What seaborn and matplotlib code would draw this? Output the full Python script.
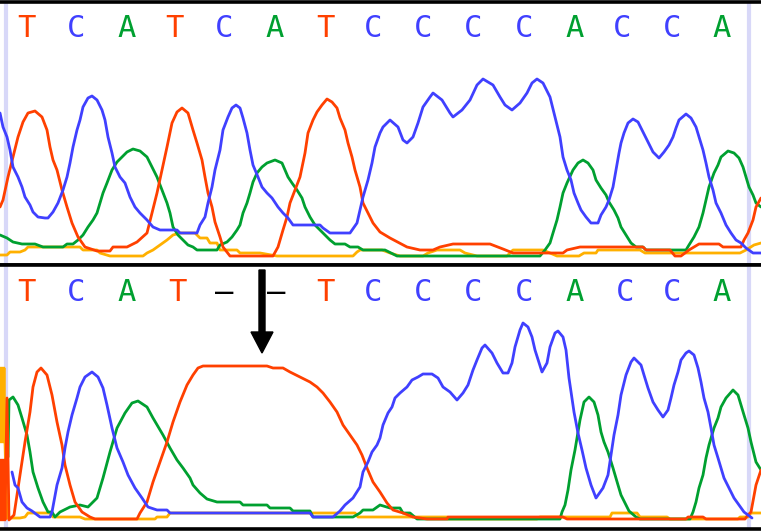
import matplotlib
matplotlib.use("Agg")
import matplotlib.pyplot as plt
from matplotlib.patches import FancyArrow
import seaborn as sns
import pandas as pd

# ---------------- data ----------------
# base calls
top_calls = ["T", "C", "A", "T", "C", "A", "T", "C", "C", "C", "C", "A", "C", "C", "A"]
top_call_pos = [26, 76, 127, 174, 224, 275, 325, 373, 423, 473, 524, 575, 622, 672, 722]
bot_calls = ["T", "C", "A", "T", "–", "–", "T", "C", "C", "C", "C", "A", "C", "C", "A"]
bot_call_pos = [26, 76, 127, 177, 224, 276, 325, 373, 423, 473, 524, 575, 625, 672, 722]
deletion_scan = 262

# ---- top trace (reference) ----
top_T_scan = [0, 3, 8, 13, 18, 23, 28, 35, 42, 47, 50, 53, 57, 62, 67, 72, 78, 85, 97, 110, 113, 127, 137, 147, 152, 157, 162, 167, 172, 177, 182, 188, 193, 197, 202, 205, 208, 212, 215, 220, 223, 230, 273, 278, 283, 287, 290, 295, 300, 305, 308, 313, 317, 322, 327, 332, 337, 340, 345, 348, 352, 355, 360, 363, 368, 373, 380, 390, 407, 420, 433, 440, 453, 490, 503, 513, 563, 567, 580, 643, 646, 670, 675, 681, 689, 699, 719, 723, 741, 744, 748, 753, 756, 761]
top_T_sig = [58, 65, 88, 108, 128, 143, 152, 154, 148, 135, 118, 105, 95, 75, 58, 42, 28, 18, 14, 14, 18, 18, 23, 32, 52, 72, 95, 118, 142, 153, 157, 152, 135, 122, 105, 88, 72, 58, 43, 28, 18, 9, 9, 18, 35, 48, 62, 75, 88, 112, 132, 145, 153, 160, 166, 163, 157, 147, 135, 122, 108, 95, 78, 62, 52, 42, 33, 27, 18, 15, 15, 18, 21, 21, 16, 12, 12, 15, 18, 18, 15, 15, 9, 9, 15, 21, 21, 18, 18, 25, 32, 45, 58, 67]

top_C_scan = [0, 3, 7, 10, 13, 18, 22, 25, 30, 33, 38, 45, 48, 53, 58, 63, 67, 70, 73, 77, 80, 83, 88, 92, 97, 102, 105, 108, 112, 115, 120, 125, 130, 135, 140, 147, 153, 160, 177, 180, 197, 200, 205, 208, 212, 215, 220, 223, 228, 232, 236, 240, 243, 247, 250, 253, 258, 262, 267, 272, 278, 283, 288, 293, 320, 323, 330, 350, 357, 360, 363, 368, 372, 375, 380, 383, 390, 398, 403, 407, 413, 418, 423, 430, 433, 442, 450, 453, 462, 470, 477, 483, 493, 500, 505, 512, 520, 527, 532, 537, 543, 550, 555, 560, 563, 567, 571, 574, 578, 581, 586, 591, 598, 601, 606, 609, 613, 616, 619, 621, 624, 628, 633, 638, 643, 648, 653, 659, 664, 669, 673, 676, 679, 686, 691, 696, 699, 703, 706, 709, 713, 716, 721, 726, 731, 736, 741, 746, 753, 761]
top_C_sig = [152, 138, 128, 115, 98, 88, 78, 68, 60, 53, 48, 47, 47, 53, 62, 75, 88, 102, 118, 135, 145, 158, 167, 169, 165, 155, 145, 128, 112, 98, 88, 82, 68, 58, 52, 45, 38, 35, 35, 32, 32, 40, 48, 62, 78, 95, 115, 135, 148, 157, 160, 157, 147, 132, 115, 100, 88, 78, 72, 67, 58, 52, 47, 40, 40, 37, 32, 32, 42, 55, 68, 85, 102, 118, 132, 138, 145, 138, 125, 122, 128, 142, 158, 168, 172, 165, 152, 148, 155, 165, 180, 186, 180, 168, 160, 155, 162, 172, 182, 186, 182, 168, 148, 128, 108, 95, 85, 72, 62, 55, 48, 42, 42, 50, 58, 65, 78, 95, 112, 122, 132, 142, 146, 143, 133, 123, 113, 107, 113, 120, 128, 137, 145, 151, 147, 138, 128, 115, 102, 88, 75, 62, 52, 40, 32, 25, 22, 17, 12, 12]

top_A_scan = [0, 7, 13, 22, 35, 43, 63, 67, 73, 78, 83, 88, 93, 97, 100, 103, 107, 112, 117, 122, 127, 133, 140, 147, 152, 157, 162, 167, 170, 173, 178, 183, 188, 193, 197, 217, 220, 227, 232, 237, 240, 243, 247, 250, 253, 257, 262, 267, 275, 282, 285, 288, 292, 297, 302, 305, 310, 315, 320, 325, 330, 335, 345, 350, 358, 363, 385, 397, 540, 545, 550, 553, 557, 560, 563, 567, 573, 578, 583, 588, 593, 596, 601, 606, 609, 614, 618, 621, 626, 631, 636, 643, 646, 686, 689, 694, 699, 703, 706, 709, 714, 718, 721, 728, 734, 739, 743, 746, 749, 753, 756, 761]
top_A_sig = [30, 27, 23, 21, 21, 18, 18, 21, 21, 25, 30, 38, 45, 52, 62, 72, 82, 95, 103, 108, 113, 116, 114, 108, 98, 88, 75, 62, 52, 38, 30, 25, 20, 18, 15, 15, 20, 23, 28, 35, 40, 52, 62, 72, 83, 92, 98, 102, 105, 102, 95, 88, 82, 75, 67, 58, 48, 40, 35, 30, 25, 21, 21, 18, 18, 15, 15, 9, 9, 15, 22, 32, 45, 58, 72, 82, 95, 102, 105, 102, 95, 85, 77, 70, 63, 55, 47, 38, 30, 22, 18, 18, 15, 15, 20, 28, 38, 52, 65, 78, 92, 100, 108, 114, 112, 107, 98, 88, 78, 70, 62, 58]

top_G_scan = [0, 7, 10, 20, 25, 28, 80, 83, 97, 100, 110, 143, 147, 153, 160, 167, 173, 180, 195, 200, 207, 210, 217, 220, 237, 240, 260, 277, 353, 357, 360, 382, 390, 400, 423, 428, 437, 460, 465, 477, 507, 513, 543, 550, 557, 579, 584, 596, 598, 640, 645, 740, 746, 754, 761]
top_G_sig = [10, 10, 13, 13, 15, 18, 18, 15, 15, 12, 9, 9, 12, 15, 20, 25, 30, 32, 32, 27, 27, 22, 22, 15, 15, 12, 12, 9, 9, 13, 15, 15, 12, 9, 9, 12, 15, 15, 12, 9, 9, 15, 15, 12, 9, 9, 12, 12, 15, 15, 12, 12, 15, 20, 22]

# ---- bottom trace (sample with deletion) ----
bot_T_scan = [0, 1, 2, 3, 4, 5, 7, 9, 14, 20, 25, 30, 33, 37, 41, 47, 52, 57, 62, 65, 70, 75, 82, 90, 95, 137, 140, 147, 153, 160, 167, 173, 180, 187, 193, 198, 203, 267, 273, 283, 290, 300, 310, 317, 323, 330, 337, 343, 350, 357, 362, 367, 373, 380, 387, 393, 403, 413, 427, 447, 448, 563, 567, 686, 688, 703, 706, 745, 748, 751, 756, 761]
bot_T_sig = [69, 9, 69, 9, 69, 9, 131, 9, 14, 54, 87, 117, 142, 157, 161, 154, 134, 107, 84, 64, 44, 27, 17, 12, 10, 10, 16, 27, 47, 67, 87, 107, 127, 144, 154, 161, 163, 163, 161, 161, 157, 152, 147, 142, 136, 127, 117, 104, 94, 84, 74, 61, 47, 37, 26, 19, 16, 12, 10, 10, 12, 12, 10, 10, 12, 12, 10, 10, 14, 17, 44, 59]

bot_C_scan = [12, 15, 18, 22, 27, 32, 40, 50, 52, 57, 62, 65, 68, 72, 77, 80, 85, 92, 98, 103, 107, 112, 117, 123, 128, 135, 142, 148, 157, 167, 170, 310, 313, 333, 340, 345, 353, 360, 363, 368, 372, 377, 380, 383, 388, 392, 395, 400, 407, 412, 418, 423, 432, 438, 443, 450, 457, 463, 468, 473, 477, 482, 485, 492, 497, 503, 508, 512, 515, 520, 523, 528, 532, 535, 542, 547, 550, 555, 558, 563, 566, 569, 574, 578, 582, 586, 591, 596, 603, 608, 611, 614, 618, 621, 626, 631, 634, 641, 644, 648, 653, 658, 663, 668, 671, 674, 678, 681, 686, 689, 694, 698, 701, 704, 708, 711, 714, 718, 721, 724, 729, 734, 739, 744, 748, 752]
bot_C_sig = [57, 44, 41, 27, 21, 18, 12, 12, 17, 44, 61, 81, 97, 114, 131, 142, 152, 157, 152, 141, 124, 101, 81, 67, 54, 41, 31, 22, 19, 19, 16, 16, 12, 12, 18, 24, 31, 42, 57, 67, 77, 84, 91, 104, 116, 122, 131, 136, 142, 149, 152, 155, 155, 151, 142, 137, 129, 136, 144, 159, 169, 181, 184, 176, 166, 156, 156, 166, 182, 199, 206, 202, 192, 179, 157, 166, 182, 196, 198, 192, 179, 151, 117, 96, 79, 61, 44, 31, 41, 54, 74, 94, 114, 134, 154, 167, 171, 164, 154, 141, 127, 119, 112, 119, 131, 144, 157, 169, 176, 178, 174, 161, 147, 131, 117, 101, 84, 71, 61, 51, 41, 31, 24, 17, 14, 11]

bot_A_scan = [8, 9, 13, 18, 22, 27, 30, 33, 38, 43, 48, 52, 55, 60, 70, 80, 88, 97, 103, 110, 117, 125, 132, 138, 147, 153, 163, 170, 177, 183, 190, 193, 200, 207, 217, 240, 243, 267, 270, 290, 293, 310, 313, 353, 360, 363, 373, 380, 390, 400, 403, 410, 417, 560, 562, 565, 568, 571, 575, 580, 584, 589, 594, 598, 601, 604, 608, 613, 618, 621, 626, 629, 636, 640, 690, 693, 696, 699, 703, 706, 709, 714, 718, 721, 726, 733, 738, 741, 744, 748, 751, 756, 761]
bot_A_sig = [72, 129, 132, 124, 111, 94, 77, 57, 41, 27, 17, 17, 12, 17, 22, 24, 22, 31, 51, 77, 101, 116, 126, 128, 122, 111, 94, 81, 69, 61, 51, 44, 36, 30, 27, 27, 24, 24, 21, 21, 18, 18, 12, 12, 16, 19, 19, 24, 21, 21, 16, 16, 10, 10, 17, 24, 39, 59, 79, 109, 127, 132, 127, 114, 97, 87, 77, 61, 44, 34, 24, 18, 12, 10, 10, 17, 27, 41, 54, 71, 84, 101, 111, 122, 131, 139, 134, 124, 114, 101, 87, 67, 59]

bot_G_scan = [0, 1, 2, 3, 4, 5, 7, 20, 25, 28, 50, 53, 80, 85, 155, 157, 167, 170, 355, 358, 447, 448, 537, 540, 610, 612, 637, 640, 667, 670, 738, 740, 748, 751, 761]
bot_G_sig = [161, 87, 161, 87, 161, 87, 11, 11, 12, 16, 16, 12, 12, 10, 10, 12, 12, 16, 16, 12, 12, 10, 10, 12, 12, 16, 16, 12, 12, 10, 10, 12, 12, 16, 16]

# ---------------- build tables ----------------
def panel_frame(series):
    rows = []
    for base, (xs, ys) in series.items():
        for x, y in zip(xs, ys):
            rows.append({"base": base, "scan": x, "signal": y})
    return pd.DataFrame(rows)

top_df = panel_frame({"G": (top_G_scan, top_G_sig), "A": (top_A_scan, top_A_sig),
                      "T": (top_T_scan, top_T_sig), "C": (top_C_scan, top_C_sig)})
bot_df = panel_frame({"G": (bot_G_scan, bot_G_sig), "A": (bot_A_scan, bot_A_sig),
                      "T": (bot_T_scan, bot_T_sig), "C": (bot_C_scan, bot_C_sig)})

colors = {"A": "#00A030", "C": "#4040FF", "G": "#FFB000", "T": "#FF4000", "–": "#000000"}
order = ["G", "A", "T", "C"]

# ---------------- figure ----------------
sns.set_style("white")
W, H = 761, 531
fig = plt.figure(figsize=(W / 100, H / 100), dpi=100)
fig.patch.set_facecolor("white")

ax_top = fig.add_axes([0, (H - 265) / H, 1, (265 - 1.5) / H])
ax_bot = fig.add_axes([0, (H - 529) / H, 1, (529 - 265) / H])

for ax, df, calls, pos, ymax in [(ax_top, top_df, top_calls, top_call_pos, 263.5),
                                 (ax_bot, bot_df, bot_calls, bot_call_pos, 264)]:
    ax.set_xlim(0, W)
    ax.set_ylim(0, ymax)
    ax.axvline(5.5, color="#D8D8F8", lw=3, zorder=0)
    ax.axvline(749, color="#D8D8F8", lw=3, zorder=0)
    sns.lineplot(data=df, x="scan", y="signal", hue="base", hue_order=order,
                 palette=colors, estimator=None, sort=False, lw=2.0,
                 legend=False, ax=ax)
    for c, x in zip(calls, pos):
        ax.text(x, 228, c, color=colors[c], fontsize=22, family="DejaVu Sans Mono",
                ha="center", va="baseline")
    ax.set_xticks([])
    ax.set_yticks([])
    ax.set_xlabel("")
    ax.set_ylabel("")
    ax.set_facecolor("white")
    for s in ["left", "right"]:
        ax.spines[s].set_visible(False)
    for s in ["top", "bottom"]:
        ax.spines[s].set_color("black")
        ax.spines[s].set_linewidth(2.6)

# deletion arrow
ax_bot.add_patch(FancyArrow(deletion_scan, 259, 0, -83, width=6, head_width=22,
                            head_length=21, length_includes_head=True,
                            color="black", zorder=5, clip_on=False))

fig.savefig("out.png", dpi=100, facecolor="white")
